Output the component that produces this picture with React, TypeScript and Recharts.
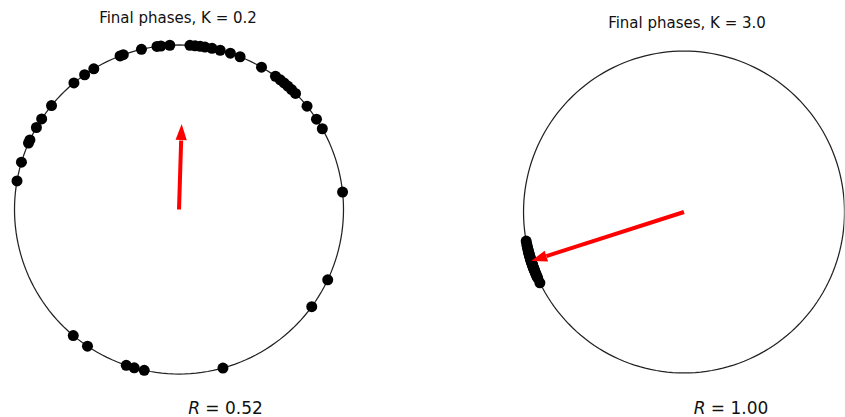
import React from 'react';
import { ScatterChart, Scatter, XAxis, YAxis } from 'recharts';

// Final phases (degrees)
const phasesWeak: number[] = [
  97.7, 96.3, 93.2, 103.2, 109.8, 111.0, 121.2, 125.0, 129.7, 140.8, 146.6, 150.1,
  155.0, 156.2, 163.3, 170.0,
  86.2, 84.4, 82.6, 80.9, 78.4, 75.5, 71.8, 68.2, 59.9, 54.1, 52.0, 50.3, 48.6,
  46.8, 44.9, 38.9, 33.3, 29.4, 6.1,
  230.0, 236.2, 251.3, 254.2, 257.8, 334.7, 323.8, 285.5,
];
const phasesStrong: number[] = [
  190.4, 191.5, 192.3, 193.0, 193.6, 194.2, 194.7, 195.1, 195.5, 195.9, 196.3,
  196.6, 197.0, 197.3, 197.6, 197.9, 198.2, 198.5, 198.8, 199.1, 199.4, 199.8,
  200.2, 200.6, 201.0, 201.5, 202.0, 202.5, 203.0, 203.6, 204.3, 206.1,
];
const orderR: number[] = [0.52, 1.0];
const orderPsi: number[] = [88.2, 197.7];
const titles: string[] = ['Final phases, K = 0.2', 'Final phases, K = 3.0'];
const rLabels: string[] = ['0.52', '1.00'];

const HEAD_LEN = 0.1;
const rad = (d: number) => (d * Math.PI) / 180;
const toXY = (deg: number, r = 1) => ({ x: r * Math.cos(rad(deg)), y: r * Math.sin(rad(deg)) });
const unitCircle = Array.from({ length: 181 }, (_, i) => toXY(i * 2));

const Empty = () => <g />;
const Dot = (p: any) => <circle cx={p.cx} cy={p.cy} r={5.5} fill="#000" />;
const Head = (p: any) => {
  const a = p.payload.angle;
  return (
    <g transform={`translate(${p.cx},${p.cy}) rotate(${-a})`}>
      <polygon points="0,0 -16,5.6 -16,-5.6" fill="#ff0000" />
    </g>
  );
};

type PanelProps = {
  phases: number[];
  R: number;
  psi: number;
  width: number;
  height: number;
  margin: { top: number; left: number; right: number; bottom: number };
  xDomain: [number, number];
  yDomain: [number, number];
};

const Panel = ({ phases, R, psi, width, height, margin, xDomain, yDomain }: PanelProps) => {
  const dots = phases.map((d) => toXY(d));
  const shaft = [{ x: 0, y: 0 }, toXY(psi, R - HEAD_LEN)];
  const head = [{ ...toXY(psi, R), angle: psi }];
  return (
    <ScatterChart width={width} height={height} margin={margin}>
      <XAxis type="number" dataKey="x" domain={xDomain} hide allowDataOverflow />
      <YAxis type="number" dataKey="y" domain={yDomain} hide allowDataOverflow />
      <Scatter
        data={unitCircle}
        line={{ stroke: '#222', strokeWidth: 1.25 }}
        lineType="joint"
        shape={Empty}
        isAnimationActive={false}
      />
      <Scatter data={dots} shape={Dot} fill="#000" isAnimationActive={false} />
      <Scatter
        data={shaft}
        line={{ stroke: '#ff0000', strokeWidth: 4 }}
        lineType="joint"
        shape={Empty}
        isAnimationActive={false}
      />
      <Scatter data={head} shape={Head} isAnimationActive={false} />
    </ScatterChart>
  );
};

export default function App() {
  return (
    <div style={{ position: 'absolute', left: 0, top: 0, width: 845, height: 417, background: '#fff', overflow: 'hidden' }}>
      <div style={{ position: 'absolute', left: 0, top: 0 }}>
        <Panel
          phases={phasesWeak}
          R={orderR[0]}
          psi={orderPsi[0]}
          width={420}
          height={417}
          margin={{ top: 35.13, left: 4.63, right: 66.63, bottom: 33.13 }}
          xDomain={[-1.06, 1.06]}
          yDomain={[-1.06, 1.06]}
        />
      </div>
      <div style={{ position: 'absolute', left: 420, top: 0 }}>
        <Panel
          phases={phasesStrong}
          R={orderR[1]}
          psi={orderPsi[1]}
          width={425}
          height={417}
          margin={{ top: 41.4, left: 93.9, right: 0.5, bottom: 34.4 }}
          xDomain={[-1.06, 1.0]}
          yDomain={[-1.06, 1.06]}
        />
      </div>
      <svg
        width={845}
        height={417}
        style={{ position: 'absolute', left: 0, top: 0, pointerEvents: 'none' }}
        fontFamily="DejaVu Sans"
      >
        <text x={178} y={23} textAnchor="middle" fontSize={15} fill="#111">{titles[0]}</text>
        <text x={687} y={28} textAnchor="middle" fontSize={15} fill="#111">{titles[1]}</text>
        <text x={225.5} y={414} textAnchor="middle" fontSize={17} fill="#111">
          <tspan fontStyle="italic">R</tspan> = {rLabels[0]}
        </text>
        <text x={731} y={414} textAnchor="middle" fontSize={17} fill="#111">
          <tspan fontStyle="italic">R</tspan> = {rLabels[1]}
        </text>
      </svg>
    </div>
  );
}
